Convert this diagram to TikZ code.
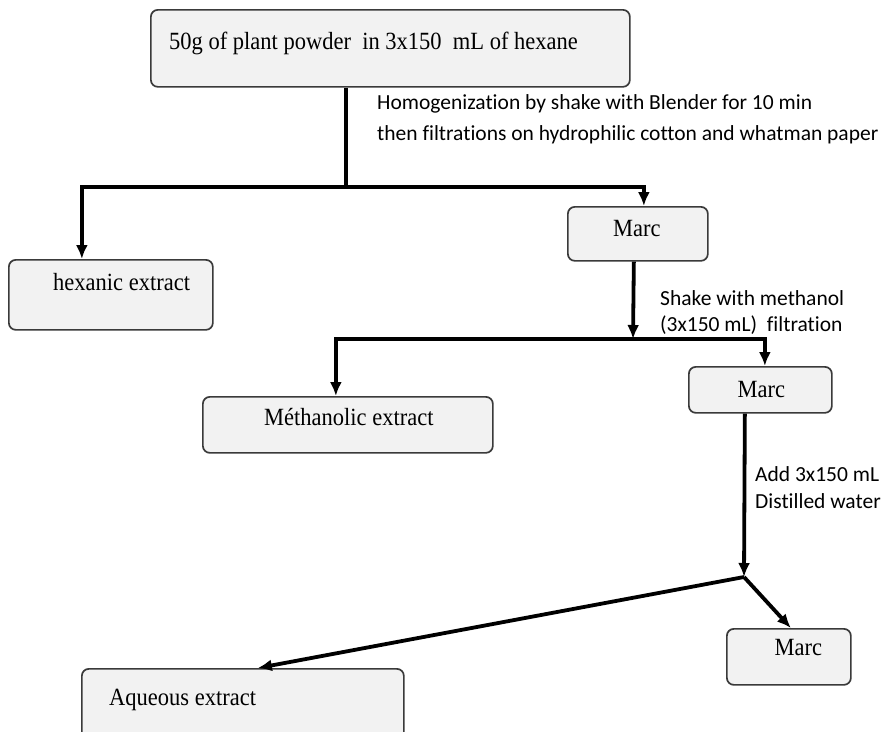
\documentclass[tikz,border=0pt]{standalone}
\usepackage{fontspec}
\setmainfont{Liberation Serif}
\newfontfamily\labelfont[Ligatures=NoCommon]{Carlito}
\usetikzlibrary{arrows.meta}
\definecolor{boxfill}{HTML}{F2F2F2}
\definecolor{boxline}{HTML}{3A3A3A}
\newcommand{\tallt}[1]{\scalebox{1}[1.1]{#1}}
\begin{document}
\begin{tikzpicture}[x=1pt,y=-1pt,
  box/.style={draw=boxline, fill=boxfill, line width=1.7pt, rounded corners=7pt, inner sep=0pt, anchor=north west},
  boxtxt/.style={font=\fontsize{22.5}{27}\selectfont, inner sep=0pt, anchor=base west},
  boxtxtc/.style={boxtxt, anchor=base},
  lbl/.style={font=\labelfont\fontsize{21.5}{26}\selectfont, inner sep=0pt, anchor=base west},
  conn/.style={line width=3.8pt},
  arr/.style={line width=3.8pt, -{Latex[length=14pt,width=12pt]}}]
\useasboundingbox (0,0) rectangle (882,731);
\clip (0,0) rectangle (882,731);
\fill[white] (0,0) rectangle (882,731);

% boxes
\node[box, minimum width=479pt, minimum height=77pt] (top) at (150,9) {};
\node[box, minimum width=140pt, minimum height=54pt] (marc1) at (567,206) {};
\node[box, minimum width=204pt, minimum height=70pt] (hex) at (8,259) {};
\node[box, minimum width=290pt, minimum height=56pt] (meth) at (202,396) {};
\node[box, minimum width=143pt, minimum height=46pt] (marc2) at (688,366) {};
\node[box, minimum width=124pt, minimum height=56pt] (marc3) at (726,628) {};
\node[box, minimum width=322pt, minimum height=90pt] (aq) at (81,668) {};

% box texts
\node[boxtxt] (toptxt) at ([shift={(19,40)}]top.north west) {\tallt{50g of plant powder\ \ in 3x150\ \ mL of hexane}};
\node[boxtxtc] (marc1txt) at ([shift={(-1,30)}]marc1.north) {\tallt{Marc}};
\node[boxtxt] (hextxt) at ([shift={(45,31)}]hex.north west) {\tallt{hexanic extract}};
\node[boxtxtc] (methtxt) at ([shift={(1,29)}]meth.north) {\tallt{Méthanolic extract}};
\node[boxtxtc] (marc2txt) at ([shift={(1,31)}]marc2.north) {\tallt{Marc}};
\node[boxtxtc] (marc3txt) at ([shift={(9.5,27)}]marc3.north) {\tallt{Marc}};
\node[boxtxt] (aqtxt) at ([shift={(28,37)}]aq.north west) {\tallt{Aqueous extract}};

% connectors
\coordinate (j1) at (346,187);
\draw[conn] (top.south -| j1) -- (j1);
\draw[arr] (j1) -| ([xshift=-29pt]hex.north);
\draw[arr] (j1) -| ([xshift=6pt]marc1.north);

\coordinate (j2) at (633,339);
\draw[arr] ([xshift=-4pt]marc1.south) -- (j2);
\draw[arr] (j2) -| ([xshift=-12pt]meth.north);
\draw[arr] (j2) -| ([xshift=4.5pt]marc2.north);

\coordinate (j3) at (744,577);
\draw[arr] ([xshift=-15.5pt]marc2.south) -- (j3);
\draw[arr] (j3) -- ([xshift=15pt]aq.north);
\draw[arr] (j3) -- ([xshift=2pt]marc3.north);

% labels
\node[lbl] (l1) at (377,109) {Homogenization by shake with Blender for 10 min};
\node[lbl] (l2) at (377,140) {then filtrations on hydrophilic cotton and whatman paper};
\node[lbl] (l3) at (660,305) {Shake with methanol};
\node[lbl] (l4) at (660,331) {(3x150 mL)\ \ filtration};
\node[lbl] (l5) at (755,481) {Add 3x150 mL};
\node[lbl] (l6) at (755,508) {Distilled water};
\end{tikzpicture}
\end{document}
